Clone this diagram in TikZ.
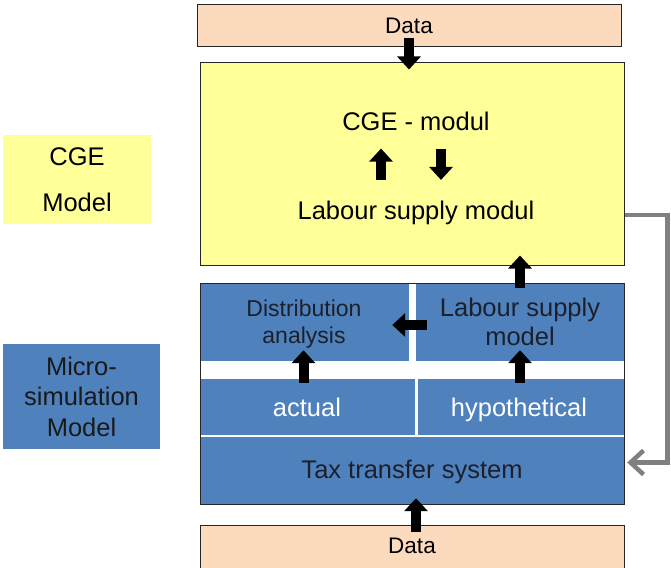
\documentclass[tikz,border=0pt]{standalone}
\usepackage{fontspec}
\setmainfont{Liberation Sans}
\usetikzlibrary{arrows.meta,calc}

\definecolor{peach}{RGB}{251,218,190}
\definecolor{cgeyellow}{RGB}{255,255,153}
\definecolor{microblue}{RGB}{79,129,189}
\definecolor{darktext}{RGB}{28,32,44}
\definecolor{feedgray}{RGB}{128,128,128}

\begin{document}
\begin{tikzpicture}[x=1pt,y=-1pt,
  font=\fontsize{25.5}{29}\selectfont,
  box/.style={draw=black!85, line width=1pt, inner sep=0pt},
  cell/.style={fill=microblue, inner sep=0pt},
  txt/.style={inner sep=0pt, align=center},
  datafont/.style={font=\fontsize{22.5}{27}\selectfont},
  blockarrow/.style={line width=10pt, -{Triangle[width=23pt,length=13pt]}},
  feedback/.style={feedgray, line width=4.5pt, -{Straight Barb[length=13pt,width=24pt]}}]

\useasboundingbox (0,0) rectangle (671,567);

% left hand labels
\node[txt, fill=cgeyellow, minimum width=148, minimum height=89,
  font=\fontsize{25.5}{45.7}\selectfont] (cgelabel) at (77,179.5) {CGE\\Model};
\node[txt, fill=microblue, minimum width=157, minimum height=105,
  font=\fontsize{25.5}{30.5}\selectfont, text=black!90] (microlabel) at (81.5,396.5)
  {Micro-\\simulation\\Model};

% data on top and CGE box
\node[box, fill=peach, minimum width=424, minimum height=42] (dtop) at (409,26) {};
\node[txt, datafont] (dtoptext) at (409,25.8) {Data};
\node[box, fill=cgeyellow, minimum width=424, minimum height=202] (cge) at (412,164) {};
\node[txt] (cgemod) at (416,121) {CGE - modul};
\node[txt] (lsmod) at (416,213.4) {Labour supply modul};

% micro simulation cells
\node[cell, minimum width=209, minimum height=78] (dist) at (304.5,322) {};
\node[cell, minimum width=208, minimum height=78] (lsm) at (520,322) {};
\node[cell, minimum width=215, minimum height=56] (actual) at (307.5,407) {};
\node[cell, minimum width=206, minimum height=56] (hypo) at (521,407) {};
\node[cell, minimum width=424, minimum height=67] (tax) at (412,470.5) {};
\node[box, minimum width=424, minimum height=221] (micro) at (412,393.5) {};

\node[txt, text=darktext, font=\fontsize{23}{26.3}\selectfont] (disttext) at (304,324)
  {Distribution\\analysis};
\node[txt, text=darktext, font=\fontsize{25.5}{29.3}\selectfont] (lsmtext) at (520,322)
  {Labour supply\\model};
\node[txt, text=white] (actualtext) at (307,407.8) {actual};
\node[txt, text=white] (hypotext) at (519,410.4) {hypothetical};
\node[txt, text=darktext] (taxtext) at (412,472.4) {Tax transfer system};

% data at the bottom
\node[box, fill=peach, minimum width=424, minimum height=44] (dbot) at (412,547) {};
\node[txt, datafont] (dbottext) at (412,545.8) {Data};

% arrows
\draw[blockarrow] ([yshift=9]dtop.south) -- ([yshift=-7]dtop.south |- cge.north);
\draw[blockarrow] ([xshift=-35,yshift=21.4]lsmod.north) -- ([xshift=-35,yshift=-18]cgemod.south);
\draw[blockarrow] ([xshift=25,yshift=-18]cgemod.south) -- ([xshift=25,yshift=21.4]lsmod.north);
\draw[blockarrow] ([yshift=-5]lsm.north) -- ([yshift=10]lsm.north |- cge.south);
\draw[blockarrow] ([xshift=11,yshift=-3]lsm.west) -- ([xshift=-17,yshift=-3]dist.east);
\draw[blockarrow] ([xshift=-4,yshift=-4]actual.north) -- ([xshift=-4,yshift=11]actual.north |- dist.south);
\draw[blockarrow] ([yshift=-4]lsm.south |- hypo.north) -- ([yshift=11]lsm.south);
\draw[blockarrow] ([xshift=4,yshift=-7]dbot.north) -- ([xshift=4,yshift=6]dbot.north |- tax.south);

% feedback from the labour supply modul to the tax transfer system
\draw[feedback] ([yshift=-51]cge.east) -- ++(43,0) |- ([xshift=3,yshift=8]tax.east);
\end{tikzpicture}
\end{document}
